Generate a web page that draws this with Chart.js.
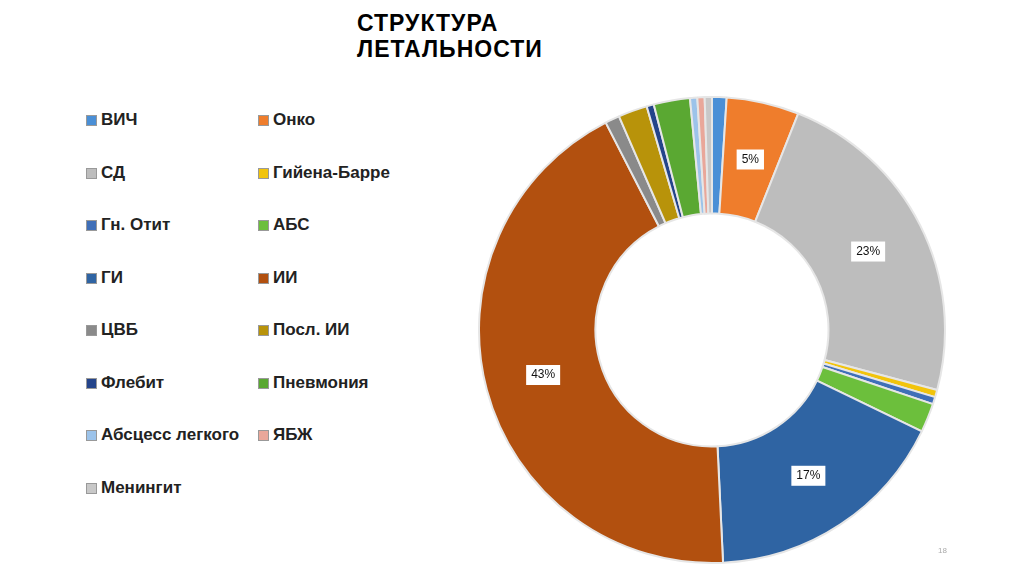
<!DOCTYPE html>
<html><head><meta charset="utf-8">
<script src="https://cdn.jsdelivr.net/npm/chart.js@4"></script>
<style>
body{margin:0;background:#fff;font-family:"Liberation Sans",Arial,sans-serif;width:1024px;height:574px;position:relative;overflow:hidden}
#title{position:absolute;left:357px;top:10px;font-size:23px;font-weight:bold;line-height:26px;letter-spacing:1px}
#legend{position:absolute;left:86px;top:110px;display:grid;grid-template-columns:172px 200px;row-gap:0}
.it{height:52.5px;font-size:17px;font-weight:bold;color:#222;display:flex;align-items:flex-start}
.sw{width:9px;height:9px;margin:5px 4px 0 0;border:1px solid #999}
#wrap{position:absolute;left:478px;top:96px;width:468px;height:468px}
#pg{position:absolute;left:938px;top:546px;font-size:8px;color:#aaa}
</style></head><body>
<div id="title">СТРУКТУРА<br>ЛЕТАЛЬНОСТИ</div>
<div id="legend"></div>
<div id="wrap"><canvas id="c" width="468" height="468"></canvas></div>
<div id="pg">18</div>
<script>
const categories = ['ВИЧ','Онко','СД','Гийена-Барре','Гн. Отит','АБС','ГИ','ИИ','ЦВБ','Посл. ИИ','Флебит','Пневмония','Абсцесс легкого','ЯБЖ','Менингит'];
const values = [1,5,23,0.5,0.5,2,17,43,1,2,0.5,2.5,0.5,0.5,0.5];
const colors = ['#4a8fd6','#ef7d2c','#bdbdbd','#f2c40c','#3f6fb8','#6cbf3c','#2f64a3','#b2500f','#8a8a8a','#b8930a','#24448a','#5aa832','#9cc3ea','#e9a79a','#c8c8c8'];

const leg = document.getElementById('legend');
categories.forEach(function(n,i){
  const d = document.createElement('div'); d.className='it';
  d.innerHTML = '<span class="sw" style="background:'+colors[i]+'"></span>'+n;
  leg.appendChild(d);
});

// white boxes with percentages on the big slices
const labelPlugin = {
  id:'boxes',
  afterDatasetsDraw(chart){
    const ctx = chart.ctx;
    chart.getDatasetMeta(0).data.forEach(function(arc,i){
      if (values[i] < 5) return;
      const p = arc.tooltipPosition();
      const t = Math.round(values[i])+'%';
      ctx.font = '12px "Liberation Sans", Arial';
      const w = ctx.measureText(t).width + 10;
      ctx.fillStyle='#fff'; ctx.fillRect(p.x-w/2,p.y-10,w,20);
      ctx.fillStyle='#111'; ctx.textAlign='center'; ctx.textBaseline='middle';
      ctx.fillText(t,p.x,p.y);
    });
  }
};

new Chart(document.getElementById('c'), {
  type:'doughnut',
  data:{labels:categories,datasets:[{data:values,backgroundColor:colors,borderColor:'#e6e6e6',borderWidth:2}]},
  options:{responsive:false,animation:false,cutout:'50%',
    plugins:{legend:{display:false},tooltip:{enabled:false}}},
  plugins:[labelPlugin]
});
</script>
</body></html>
